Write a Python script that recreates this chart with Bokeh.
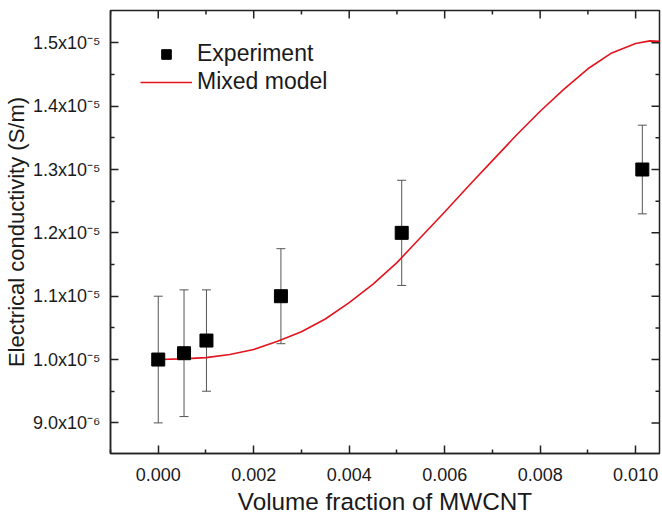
import math
from bokeh.plotting import figure
from bokeh.models import (Range1d, FixedTicker, Whisker, TeeHead,
                          ColumnDataSource, NumeralTickFormatter, Legend, LegendItem)
from bokeh.embed import file_html
from bokeh.resources import INLINE

# Experimental data
exp_x = [0.0, 0.00054, 0.00101, 0.00257, 0.0051, 0.01014]
exp_y = [1.00e-5, 1.01e-5, 1.03e-5, 1.10e-5, 1.20e-5, 1.30e-5]
exp_err = [1.0e-6, 1.0e-6, 0.8e-6, 0.75e-6, 0.83e-6, 0.70e-6]

# Mixed model curve
model_x = [0.0, 0.0005, 0.001, 0.0015, 0.002, 0.0025, 0.003, 0.0035, 0.004, 0.0045,
           0.005, 0.0055, 0.006, 0.0065, 0.007, 0.0075, 0.008, 0.0085, 0.009, 0.0095,
           0.010, 0.0103, 0.0106]
model_y = [1.000e-5, 1.001e-5, 1.003e-5, 1.008e-5, 1.016e-5, 1.029e-5, 1.044e-5, 1.064e-5,
           1.090e-5, 1.119e-5, 1.153e-5, 1.193e-5, 1.233e-5, 1.274e-5, 1.314e-5, 1.354e-5,
           1.392e-5, 1.427e-5, 1.459e-5, 1.484e-5, 1.499e-5, 1.503e-5, 1.502e-5]

x_ticks = [0.0, 0.002, 0.004, 0.006, 0.008, 0.010]
x_minor = [-0.001, 0.001, 0.003, 0.005, 0.007, 0.009]
y_ticks = [9.0e-6, 1.0e-5, 1.1e-5, 1.2e-5, 1.3e-5, 1.4e-5, 1.5e-5]
y_minor = [8.5e-6, 9.5e-6, 1.05e-5, 1.15e-5, 1.25e-5, 1.35e-5, 1.45e-5]
y_labels = ["9.0x10\u207b\u2076", "1.0x10\u207b\u2075", "1.1x10\u207b\u2075", "1.2x10\u207b\u2075",
            "1.3x10\u207b\u2075", "1.4x10\u207b\u2075", "1.5x10\u207b\u2075"]

X0, X1 = -0.001, 0.0105
Y0, Y1 = 8.517e-6, 1.551e-5

FONT = "Liberation Sans"
TXT = "#1a1a1a"
AX = "#222222"

p = figure(width=662, height=517, output_backend="svg", toolbar_location=None,
           x_range=Range1d(X0, X1), y_range=Range1d(Y0, Y1),
           min_border_top=10, min_border_right=3, min_border_left=110, min_border_bottom=63)
p.grid.visible = False
p.outline_line_color = AX
p.outline_line_width = 1.5
p.background_fill_color = "white"

src = ColumnDataSource(dict(x=exp_x, y=exp_y,
                            lo=[a - b for a, b in zip(exp_y, exp_err)],
                            hi=[a + b for a, b in zip(exp_y, exp_err)]))

w = Whisker(base="x", lower="lo", upper="hi", source=src, level="underlay",
            line_color="#555555", line_width=1,
            upper_head=TeeHead(size=9, line_color="#555555", line_width=1),
            lower_head=TeeHead(size=9, line_color="#555555", line_width=1))
p.add_layout(w)

r_model = p.line(model_x, model_y, line_color="#e3141e", line_width=1.6)
r_exp = p.scatter("x", "y", source=src, marker="square", size=13,
                  fill_color="black", line_color="black")

# inward ticks on top and right edges of the frame
p.ray(x=x_ticks, y=[Y1] * len(x_ticks), length=8, length_units="screen",
      angle=-math.pi / 2, line_color=AX, line_width=1.5)
p.ray(x=x_minor, y=[Y1] * len(x_minor), length=4, length_units="screen",
      angle=-math.pi / 2, line_color=AX, line_width=1.5)
p.ray(x=[X1] * len(y_ticks), y=y_ticks, length=8, length_units="screen",
      angle=math.pi, line_color=AX, line_width=1.5)
p.ray(x=[X1] * len(y_minor), y=y_minor, length=4, length_units="screen",
      angle=math.pi, line_color=AX, line_width=1.5)


def style(ax):
    ax.axis_line_color = AX
    ax.axis_line_width = 1.5
    ax.major_tick_line_color = AX
    ax.minor_tick_line_color = AX
    ax.major_tick_line_width = 1.5
    ax.minor_tick_line_width = 1.5
    ax.major_tick_in = 8
    ax.major_tick_out = 0
    ax.minor_tick_in = 4
    ax.minor_tick_out = 0
    ax.major_label_text_font = FONT
    ax.major_label_text_color = TXT
    ax.major_label_text_font_size = "18px"
    ax.axis_label_text_font = FONT
    ax.axis_label_text_color = TXT
    ax.axis_label_text_font_style = "normal"


xa = p.xaxis[0]
xa.ticker = FixedTicker(ticks=x_ticks, minor_ticks=x_minor)
xa.formatter = NumeralTickFormatter(format="0.000")
style(xa)
xa.major_label_standoff = 14
xa.axis_label = "Volume fraction of MWCNT"
xa.axis_label_text_font_size = "24.3px"
xa.axis_label_standoff = 4

ya = p.yaxis[0]
ya.ticker = FixedTicker(ticks=y_ticks, minor_ticks=y_minor)
ya.major_label_overrides = dict(zip(y_ticks, y_labels))
style(ya)
ya.major_label_standoff = 10
ya.axis_label = "Electrical conductivity (S/m)"
ya.axis_label_text_font_size = "22px"
ya.axis_label_standoff = 1

legend = Legend(items=[LegendItem(label="Experiment", renderers=[r_exp]),
                       LegendItem(label="Mixed model", renderers=[r_model])],
                location="top_left")
legend.border_line_color = None
legend.background_fill_alpha = 0
legend.label_text_font = FONT
legend.label_text_font_size = "23px"
legend.label_text_color = TXT
legend.glyph_width = 52
legend.glyph_height = 24
legend.label_standoff = 5
legend.spacing = 1
legend.margin = 30
legend.padding = 6
p.add_layout(legend, "center")

open("out.html", "w").write(file_html(p, INLINE))
